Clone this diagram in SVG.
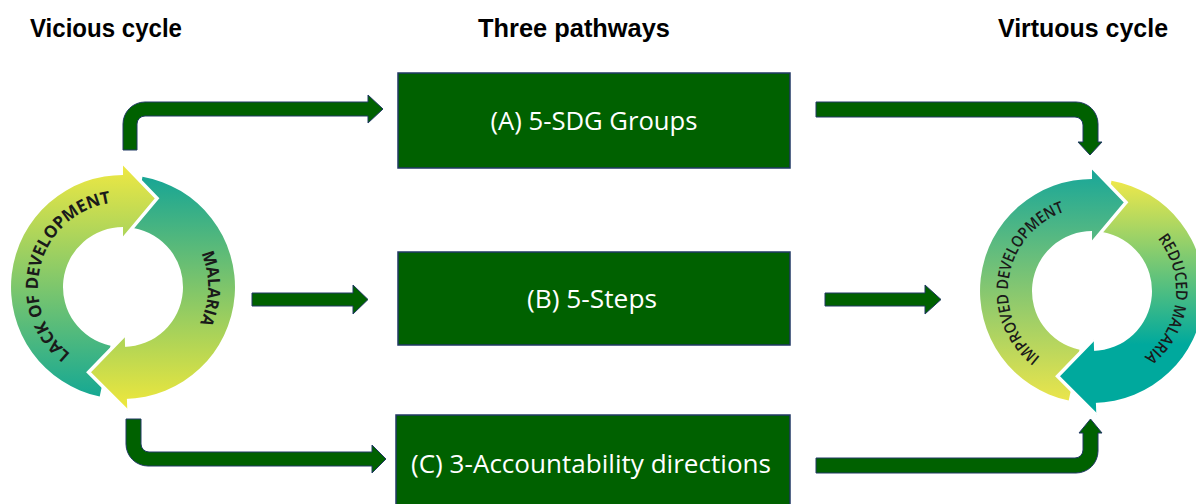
<svg xmlns="http://www.w3.org/2000/svg" width="1196" height="504" viewBox="0 0 1196 504">
<style>
.hdr{font-family:"Liberation Sans",Arial,sans-serif;font-weight:700;font-size:26px;fill:#000}
.box{fill:#006100;stroke:#203864;stroke-width:1.5}
.btxt{font-family:"Open Sans","Liberation Sans",sans-serif;font-size:26px;fill:#fff;text-anchor:middle}
.conn{fill:#006100;stroke:#203864;stroke-width:1}
.edge{fill:none;stroke:#fff;stroke-width:3.5;stroke-linejoin:miter}
.ring{font-family:"Open Sans","Liberation Sans",sans-serif;font-weight:700;font-size:17px;fill:#1a1a1a}
.ring2{font-family:"Open Sans","Liberation Sans",sans-serif;font-weight:600;font-size:16px;fill:#1a1a1a}
</style>
<defs>
<linearGradient id="gL1" gradientUnits="userSpaceOnUse" x1="0" y1="165" x2="0" y2="405"><stop offset="0" stop-color="#efe842"/><stop offset="1" stop-color="#0ea696"/></linearGradient>
<linearGradient id="gL2" gradientUnits="userSpaceOnUse" x1="0" y1="175" x2="0" y2="410"><stop offset="0" stop-color="#16a595"/><stop offset="1" stop-color="#f0e83c"/></linearGradient>
<linearGradient id="gR1" gradientUnits="userSpaceOnUse" x1="0" y1="168" x2="0" y2="405"><stop offset="0" stop-color="#17a699"/><stop offset="1" stop-color="#eee64a"/></linearGradient>
<linearGradient id="gR2" gradientUnits="userSpaceOnUse" x1="0" y1="180" x2="0" y2="415"><stop offset="0" stop-color="#efe84a"/><stop offset="0.7" stop-color="#00a99d"/><stop offset="1" stop-color="#00a99d"/></linearGradient>
<path id="pLack" d="M80.5,360.61 A85,85 0 0 1 123,202"/>
<path id="pMal" d="M188.11,232.36 A85,85 0 0 1 186.17,343.88"/>
<path id="pImp" d="M1063.27,369.93 A84,84 0 0 1 1090.53,207.01"/>
<path id="pRed" d="M1146,226.65 A84,84 0 0 1 1130.14,365.85"/>
</defs>
<rect width="1196" height="504" fill="#fff"/>

<g id="headers">
<text class="hdr" x="30" y="37" textLength="152" lengthAdjust="spacingAndGlyphs">Vicious cycle</text>
<text class="hdr" x="478" y="37" textLength="192" lengthAdjust="spacingAndGlyphs">Three pathways</text>
<text class="hdr" x="998" y="37" textLength="170" lengthAdjust="spacingAndGlyphs">Virtuous cycle</text>
</g>

<g id="vicious-cycle">
<path fill="url(#gL1)" d="M99.71,396.55 A112,112 0 0 1 124.95,175.02 L124.05,227.01 A60,60 0 0 0 110.53,345.69 Z"/>
<path fill="url(#gL2)" d="M142.45,176.7 A112,112 0 0 1 124.95,398.98 L124.05,346.99 A60,60 0 0 0 133.42,227.91 Z"/>
<path fill="url(#gL1)" d="M123,163 L157.05,198.31 L123,239 Z"/>
<path class="edge" d="M123,163 L157.05,198.31 L123,239"/>
<path fill="url(#gL2)" d="M127.33,410.93 L88.54,372.3 L124.68,334.97 Z"/>
<path class="edge" d="M127.33,410.93 L88.54,372.3 L124.68,334.97"/>
<text class="ring"><textPath href="#pLack" startOffset="50%" text-anchor="middle" textLength="198" lengthAdjust="spacingAndGlyphs">LACK OF DEVELOPMENT</textPath></text>
<text class="ring"><textPath href="#pMal" startOffset="50%" text-anchor="middle" textLength="72" lengthAdjust="spacingAndGlyphs">MALARIA</textPath></text>
</g>

<g id="virtuous-cycle">
<path fill="url(#gR1)" d="M1068.71,400.55 A112,112 0 0 1 1093.95,179.02 L1093.05,231.01 A60,60 0 0 0 1079.53,349.69 Z"/>
<path fill="url(#gR2)" d="M1111.45,180.7 A112,112 0 0 1 1093.95,402.98 L1093.05,350.99 A60,60 0 0 0 1102.42,231.91 Z"/>
<path fill="url(#gR1)" d="M1092,167 L1126.05,202.31 L1092,243 Z"/>
<path class="edge" d="M1092,167 L1126.05,202.31 L1092,243"/>
<path fill="url(#gR2)" d="M1096.33,414.93 L1057.54,376.3 L1093.68,338.97 Z"/>
<path class="edge" d="M1096.33,414.93 L1057.54,376.3 L1093.68,338.97"/>
<text class="ring2"><textPath href="#pImp" startOffset="50%" text-anchor="middle" textLength="180" lengthAdjust="spacingAndGlyphs">IMPROVED DEVELOPMENT</textPath></text>
<text class="ring2"><textPath href="#pRed" startOffset="50%" text-anchor="middle" textLength="132" lengthAdjust="spacingAndGlyphs">REDUCED MALARIA</textPath></text>
</g>

<g id="box-a">
<rect class="box" x="398" y="73" width="392" height="95"/>
<text class="btxt" x="594" y="130" textLength="207" lengthAdjust="spacingAndGlyphs">(A) 5-SDG Groups</text>
</g>
<g id="box-b">
<rect class="box" x="398" y="252" width="392" height="93"/>
<text class="btxt" x="592" y="308" textLength="130" lengthAdjust="spacingAndGlyphs">(B) 5-Steps</text>
</g>
<g id="box-c">
<rect class="box" x="396" y="415" width="394" height="95"/>
<text class="btxt" x="591" y="473" textLength="360" lengthAdjust="spacingAndGlyphs">(C) 3-Accountability directions</text>
</g>

<g id="connectors">
<path class="conn" d="M123,150 L123,124 A22,22 0 0 1 145,102 L368,102 L368,95 L383,109 L368,123 L368,116 L145,116 A8,8 0 0 0 137,124 L137,150 Z"/>
<path class="conn" d="M816,102 L1076,102 A22,22 0 0 1 1098,124 L1098,142 L1102,142 L1090,155 L1078,142 L1083,142 L1083,125 A8,8 0 0 0 1075,117 L816,117 Z"/>
<path class="conn" d="M252,293 L353,293 L353,285 L368,299.5 L353,314 L353,306 L252,306 Z"/>
<path class="conn" d="M825,293 L925,293 L925,285 L941,299.5 L925,314 L925,306 L825,306 Z"/>
<path class="conn" d="M126,419 L141,419 L141,444 A8,8 0 0 0 149,452 L372,452 L372,445 L386,459 L372,473 L372,466 L148,466 A22,22 0 0 1 126,444 Z"/>
<path class="conn" d="M816,458 L1075,458 A8,8 0 0 0 1083,450 L1083,433 L1079,433 L1090.5,419 L1102,433 L1098,433 L1098,451 A22,22 0 0 1 1076,473 L816,473 Z"/>
</g>
</svg>
